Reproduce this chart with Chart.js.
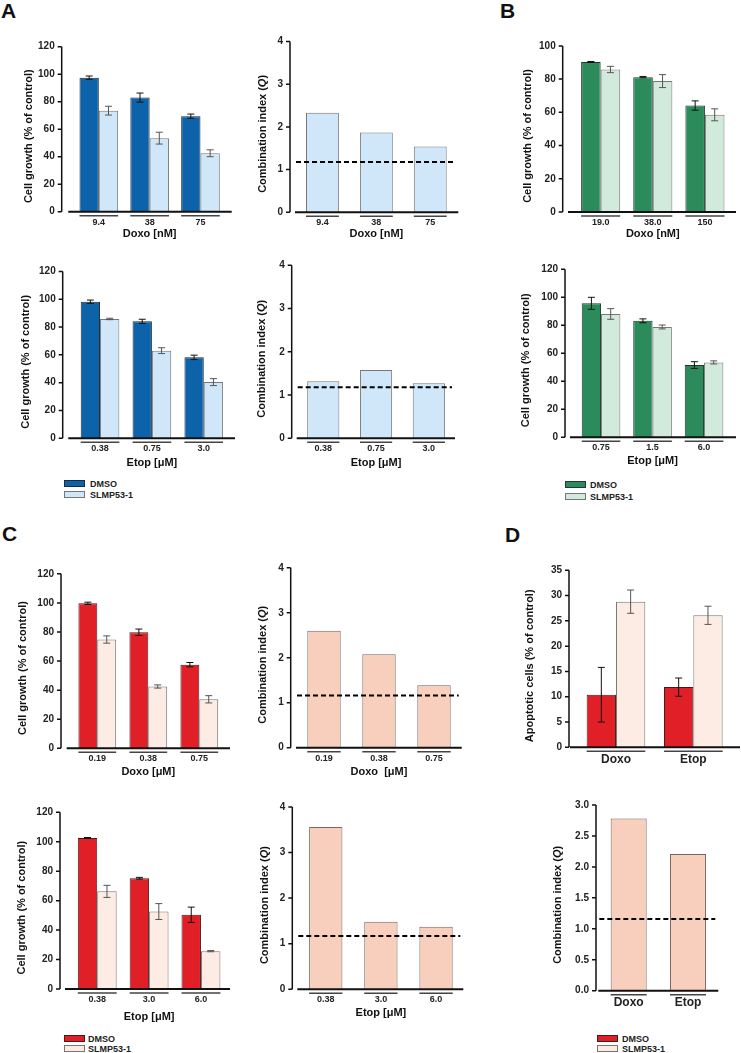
<!DOCTYPE html>
<html>
<head>
<meta charset="utf-8">
<script src="https://cdn.jsdelivr.net/npm/chart.js@4.4.1/dist/chart.umd.min.js"></script>
<style>
body { margin:0; background:#fff; width:741px; height:1053px; position:relative; overflow:hidden; font-family:"Liberation Sans", Arial, sans-serif; }
.box { position:absolute; }
.letter { position:absolute; font-weight:bold; font-size:21px; line-height:21px; color:#111; }
.sw { position:absolute; width:21px; height:7px; box-sizing:border-box; border:1px solid #444; }
.lt { position:absolute; font-weight:bold; font-size:9px; line-height:10px; color:#222; white-space:nowrap; }
</style>
</head>
<body>
<div class="letter" style="left:1px;top:0px">A</div>
<div class="letter" style="left:500px;top:0px">B</div>
<div class="letter" style="left:2px;top:523px">C</div>
<div class="letter" style="left:505px;top:524px">D</div>

<div class="sw" style="left:64px;top:480px;background:#0d63aa;border-color:#1d2a3a"></div><div class="lt" style="left:90px;top:479px">DMSO</div>
<div class="sw" style="left:64px;top:491px;background:#cfe7f8;border-color:#777"></div><div class="lt" style="left:90px;top:490px">SLMP53-1</div>
<div class="sw" style="left:565px;top:481px;background:#2b8b5b;border-color:#1e3a2a"></div><div class="lt" style="left:590px;top:480px">DMSO</div>
<div class="sw" style="left:565px;top:493px;background:#d2eadb;border-color:#777"></div><div class="lt" style="left:590px;top:492px">SLMP53-1</div>
<div class="sw" style="left:64px;top:1035px;background:#e11f27;border-color:#4a1a1a"></div><div class="lt" style="left:88px;top:1034px">DMSO</div>
<div class="sw" style="left:64px;top:1045px;background:#fdece4;border-color:#777"></div><div class="lt" style="left:88px;top:1044px">SLMP53-1</div>
<div class="sw" style="left:597px;top:1035px;background:#e11f27;border-color:#4a1a1a"></div><div class="lt" style="left:622px;top:1034px">DMSO</div>
<div class="sw" style="left:597px;top:1045px;background:#fdece4;border-color:#777"></div><div class="lt" style="left:622px;top:1044px">SLMP53-1</div>

<script>
// ---- A : blue, doxorubicin then etoposide
var aDoxoDoses = ['9.4', '38', '75'];
var aDoxoDmso = [97.5, 83.0, 69.5];
var aDoxoDmsoErr = [1.2, 3.3, 1.5];
var aDoxoSlmp = [73.5, 53.5, 42.5];
var aDoxoSlmpErr = [3.2, 4.3, 2.5];
var aDoxoQ = [2.33, 1.87, 1.54];

var aEtopDoses = ['0.38', '0.75', '3.0'];
var aEtopDmso = [98.2, 84.1, 58.2];
var aEtopDmsoErr = [1.2, 1.5, 1.6];
var aEtopSlmp = [85.8, 63.0, 40.4];
var aEtopSlmpErr = [0.5, 2.1, 2.5];
var aEtopQ = [1.32, 1.58, 1.27];

// ---- B : green
var bDoxoDoses = ['19.0', '38.0', '150'];
var bDoxoDmso = [90.3, 81.2, 64.1];
var bDoxoDmsoErr = [0.3, 0.4, 2.8];
var bDoxoSlmp = [85.8, 78.8, 58.5];
var bDoxoSlmpErr = [1.9, 3.9, 3.6];

var bEtopDoses = ['0.75', '1.5', '6.0'];
var bEtopDmso = [95.7, 83.2, 51.6];
var bEtopDmsoErr = [4.3, 1.4, 2.4];
var bEtopSlmp = [88.1, 78.8, 53.5];
var bEtopSlmpErr = [3.8, 1.4, 1.1];

// ---- C : red
var cDoxoDoses = ['0.19', '0.38', '0.75'];
var cDoxoDmso = [99.7, 79.8, 57.5];
var cDoxoDmsoErr = [0.8, 2.2, 1.5];
var cDoxoSlmp = [74.8, 42.5, 33.7];
var cDoxoSlmpErr = [2.5, 1.1, 2.5];
var cDoxoQ = [2.60, 2.08, 1.39];

var cEtopDoses = ['0.38', '3.0', '6.0'];
var cEtopDmso = [102.6, 75.2, 50.4];
var cEtopDmsoErr = [0.3, 0.6, 5.2];
var cEtopSlmp = [66.3, 52.6, 25.7];
var cEtopSlmpErr = [4.1, 5.4, 0.4];
var cEtopQ = [3.56, 1.48, 1.37];

// ---- D : apoptosis
var dDrugs = ['Doxo', 'Etop'];
var dDmso = [10.4, 11.9];
var dDmsoErr = [5.4, 1.8];
var dSlmp = [28.8, 26.1];
var dSlmpErr = [2.3, 1.8];
var dQ = [2.78, 2.21];

// dashed line (Q threshold) per CI panel: A doxo, A etop, C doxo, C etop, D
var qLine = [1.18, 1.18, 1.16, 1.17, 1.16];

var FONT = '"Liberation Sans", Arial, sans-serif';
var GROWTH = [['Cell growth (% of control)']];
var QTITLE = [['Combination index ('], ['Q', true], [')']];
var APOP = [['Apoptotic cells (% of control)']];

var blue = {dark: '#0d63aa', darkLine: '#1d2a3a', light: '#cfe7f8', lightLine: '#777'};
var green = {dark: '#2b8b5b', darkLine: '#1e3a2a', light: '#d2eadb', lightLine: '#777'};
var red = {dark: '#e11f27', darkLine: '#4a1a1a', light: '#fdece4', lightLine: '#777'};

function pair(c, d, de, s, se) {
    return [
        {data: d, err: de, fill: c.dark, line: c.darkLine, errColor: '#111'},
        {data: s, err: se, fill: c.light, line: c.lightLine, errColor: '#555'}
    ];
}
function single(fill, line, d) {
    return [{data: d, fill: fill, line: line}];
}

function decor(p, left) {
    return {
        id: 'decor',
        afterDraw: function (chart) {
            var ctx = chart.ctx, ca = chart.chartArea, xs = chart.scales.x, ys = chart.scales.y;
            var ax = ca.left - (p.catL - p.axisX);
            var yTopPx = ys.getPixelForValue(p.max);
            ctx.save();
            ctx.strokeStyle = '#111';
            // y axis with little ticks on the left
            ctx.lineWidth = 1.5;
            ctx.beginPath();
            ctx.moveTo(ax, yTopPx);
            ctx.lineTo(ax, ca.bottom);
            ys.ticks.forEach(function (t) {
                var y = ys.getPixelForValue(t.value);
                ctx.moveTo(ax - 4, y);
                ctx.lineTo(ax, y);
            });
            ctx.stroke();
            // x axis
            ctx.lineWidth = 2;
            ctx.beginPath();
            ctx.moveTo(ca.left - (p.catL - p.xL), ca.bottom);
            ctx.lineTo(ca.right + (p.xR - p.catR), ca.bottom);
            ctx.stroke();
            // lines under each group
            ctx.lineWidth = 1.5;
            ctx.strokeStyle = '#444';
            xs.ticks.forEach(function (t, i) {
                var lo = Infinity, hi = -Infinity;
                chart.data.datasets.forEach(function (d, k) {
                    var el = chart.getDatasetMeta(k).data[i];
                    lo = Math.min(lo, el.x - el.width / 2);
                    hi = Math.max(hi, el.x + el.width / 2);
                });
                ctx.beginPath();
                ctx.moveTo(lo, ca.bottom + 4);
                ctx.lineTo(hi, ca.bottom + 4);
                ctx.stroke();
            });
            // error bars
            chart.data.datasets.forEach(function (d, k) {
                if (!d.err) return;
                ctx.strokeStyle = d.errColor;
                ctx.lineWidth = 1;
                chart.getDatasetMeta(k).data.forEach(function (el, i) {
                    var yh = ys.getPixelForValue(d.data[i] + d.err[i]);
                    var yl = ys.getPixelForValue(d.data[i] - d.err[i]);
                    ctx.beginPath();
                    ctx.moveTo(el.x, yh); ctx.lineTo(el.x, yl);
                    ctx.moveTo(el.x - 3.5, yh); ctx.lineTo(el.x + 3.5, yh);
                    ctx.moveTo(el.x - 3.5, yl); ctx.lineTo(el.x + 3.5, yl);
                    ctx.stroke();
                });
            });
            // dashed threshold
            if (p.q != null) {
                var yq = ys.getPixelForValue(p.q);
                ctx.strokeStyle = '#000';
                ctx.lineWidth = 2;
                ctx.setLineDash([5, 3]);
                ctx.beginPath();
                ctx.moveTo(ca.left - (p.catL - p.xL) + 1, yq);
                ctx.lineTo(ca.right + (p.xR - p.catR) - 3, yq);
                ctx.stroke();
                ctx.setLineDash([]);
            }
            // y title (with italic Q where needed)
            ctx.translate(p.titleX - left, (yTopPx + ca.bottom) / 2 + 7);
            ctx.rotate(-Math.PI / 2);
            ctx.fillStyle = '#111';
            ctx.textBaseline = 'middle';
            ctx.textAlign = 'left';
            var total = 0;
            var fonts = p.yTitle.map(function (s) {
                var f = (s[1] ? 'italic ' : '') + 'bold 11px ' + FONT;
                ctx.font = f;
                total += ctx.measureText(s[0]).width;
                return f;
            });
            var x = -total / 2;
            p.yTitle.forEach(function (s, i) {
                ctx.font = fonts[i];
                ctx.fillText(s[0], x, 0);
                x += ctx.measureText(s[0]).width;
            });
            ctx.restore();
        }
    };
}

function addPanel(p) {
    var left = Math.round(p.axisX - 56), top = Math.round(p.yTop - 12);
    var w = Math.round(p.xR + 6 - left), h = Math.round(p.yBot - top + 38);
    var div = document.createElement('div');
    div.className = 'box';
    div.style.left = left + 'px';
    div.style.top = top + 'px';
    var cv = document.createElement('canvas');
    cv.width = w; cv.height = h;
    cv.style.width = w + 'px'; cv.style.height = h + 'px';
    div.appendChild(cv);
    document.body.appendChild(div);

    var plotTop = p.yTop - top, plotBot = p.yBot - top;
    var tickPx = p.tickFont || 9;
    var lblPad = p.lblPad != null ? p.lblPad : 5.1;
    var tOff = p.tOff || 23;

    new Chart(cv, {
        type: 'bar',
        data: {
            labels: p.labels,
            datasets: p.sets.map(function (s) {
                return {
                    data: s.data, err: s.err, errColor: s.errColor,
                    backgroundColor: s.fill, borderColor: s.line, borderWidth: 1,
                    categoryPercentage: p.cp, barPercentage: 1
                };
            })
        },
        options: {
            responsive: false,
            animation: false,
            layout: {padding: {top: plotTop, right: w - (p.catR - left), left: 0, bottom: 0}},
            plugins: {legend: {display: false}, tooltip: {enabled: false}},
            scales: {
                x: {
                    grid: {display: false, drawTicks: false},
                    border: {display: false},
                    ticks: {padding: lblPad, color: '#222', maxRotation: 0, autoSkip: false,
                        font: {family: FONT, size: tickPx, weight: 'bold'}},
                    title: {display: !!p.xTitle, text: p.xTitle || '', color: '#111',
                        font: {family: FONT, size: 11, weight: 'bold'},
                        padding: {top: 0, bottom: h - plotBot - tOff - 6.6}},
                    afterFit: function (s) { s.height = h - plotBot; }
                },
                y: {
                    min: 0, max: p.max,
                    grid: {display: false, drawTicks: false},
                    border: {display: false},
                    ticks: {stepSize: p.step, padding: (p.catL - p.axisX) + 7, color: '#222',
                        font: {family: FONT, size: 10, weight: 'bold'},
                        callback: p.fmt || function (v) { return v; }},
                    afterFit: function (s) { s.width = p.catL - left; }
                }
            }
        },
        plugins: [decor(p, left)]
    });
}

var panels = [
    {labels: aDoxoDoses, axisX: 61.7, yTop: 34.3, yBot: 211.7, catL: 73.4, catR: 225.9, xL: 68.3, xR: 231.7,
        max: 120, step: 20, cp: 0.76, titleX: 29, yTitle: GROWTH, xTitle: 'Doxo [nM]', tOff: 22,
        sets: pair(blue, aDoxoDmso, aDoxoDmsoErr, aDoxoSlmp, aDoxoSlmpErr)},
    {labels: aDoxoDoses, axisX: 290, yTop: 35, yBot: 212.3, catL: 295.5, catR: 457.2, xL: 295, xR: 458.3,
        max: 4, step: 1, cp: 0.61, titleX: 263, yTitle: QTITLE, xTitle: 'Doxo [nM]', tOff: 22, q: qLine[0],
        sets: single('#cfe7f8', '#777', aDoxoQ)},
    {labels: bDoxoDoses, axisX: 562.7, yTop: 32.7, yBot: 212, catL: 574.6, catR: 731, xL: 568, xR: 736,
        max: 100, step: 20, cp: 0.75, titleX: 528.3, yTitle: GROWTH, xTitle: 'Doxo [nM]', tOff: 22,
        sets: pair(green, bDoxoDmso, bDoxoDmsoErr, bDoxoSlmp, bDoxoSlmpErr)},
    {labels: aEtopDoses, axisX: 62.7, yTop: 259.3, yBot: 438.3, catL: 74.1, catR: 229.7, xL: 68.3, xR: 235,
        max: 120, step: 20, cp: 0.745, titleX: 26, yTitle: GROWTH, xTitle: 'Etop [\u03bcM]', tOff: 25,
        sets: pair(blue, aEtopDmso, aEtopDmsoErr, aEtopSlmp, aEtopSlmpErr)},
    {labels: aEtopDoses, axisX: 291.7, yTop: 259.3, yBot: 438.3, catL: 296.9, catR: 455.2, xL: 296.7, xR: 455,
        max: 4, step: 1, cp: 0.61, titleX: 261.7, yTitle: QTITLE, xTitle: 'Etop [\u03bcM]', tOff: 25, q: qLine[1],
        sets: single('#cfe7f8', '#777', aEtopQ)},
    {labels: bEtopDoses, axisX: 565, yTop: 258.3, yBot: 437.3, catL: 575.3, catR: 729.8, xL: 570, xR: 736,
        max: 120, step: 20, cp: 0.75, titleX: 525.8, yTitle: GROWTH, xTitle: 'Etop [\u03bcM]', tOff: 24,
        sets: pair(green, bEtopDmso, bEtopDmsoErr, bEtopSlmp, bEtopSlmpErr)},
    {labels: cDoxoDoses, axisX: 61, yTop: 562.3, yBot: 748.3, catL: 71.8, catR: 224.8, xL: 66.7, xR: 230,
        max: 120, step: 20, cp: 0.74, titleX: 23.3, yTitle: GROWTH, xTitle: 'Doxo [\u03bcM]', tOff: 23.5,
        sets: pair(red, cDoxoDmso, cDoxoDmsoErr, cDoxoSlmp, cDoxoSlmpErr)},
    {labels: cDoxoDoses, axisX: 290.7, yTop: 560.7, yBot: 747.7, catL: 296.5, catR: 461.5, xL: 296, xR: 461.7,
        max: 4, step: 1, cp: 0.607, titleX: 263.3, yTitle: QTITLE, xTitle: 'Doxo  [\u03bcM]', tOff: 24, q: qLine[2],
        sets: single('#f7cfbc', '#7a665e', cDoxoQ)},
    {labels: dDrugs, axisX: 569, yTop: 560.7, yBot: 747.3, catL: 577.3, catR: 732, xL: 570, xR: 740,
        max: 35, step: 5, cp: 0.758, titleX: 530, yTitle: APOP, tickFont: 12, lblPad: 5.5,
        sets: pair(red, dDmso, dDmsoErr, dSlmp, dSlmpErr)},
    {labels: cEtopDoses, axisX: 60, yTop: 800, yBot: 989, catL: 71.3, catR: 226.9, xL: 65, xR: 230,
        max: 120, step: 20, cp: 0.75, titleX: 21.7, yTitle: GROWTH, xTitle: 'Etop [\u03bcM]', tOff: 27.5,
        sets: pair(red, cEtopDmso, cEtopDmsoErr, cEtopSlmp, cEtopSlmpErr)},
    {labels: cEtopDoses, axisX: 292.3, yTop: 800, yBot: 989.3, catL: 298.2, catR: 463.6, xL: 297.3, xR: 463.3,
        max: 4, step: 1, cp: 0.604, titleX: 265, yTitle: QTITLE, xTitle: 'Etop [\u03bcM]', tOff: 24, q: qLine[3],
        sets: single('#f7cfbc', '#7a665e', cEtopQ)},
    {labels: dDrugs, axisX: 596, yTop: 801, yBot: 990.7, catL: 599, catR: 717.7, xL: 598.3, xR: 718.3,
        max: 3, step: 0.5, cp: 0.607, titleX: 558.3, yTitle: QTITLE, tickFont: 12, lblPad: 4.4, q: qLine[4],
        fmt: function (v) { return v.toFixed(1); },
        sets: single('#f7cfbc', '#7a665e', dQ)}
];

panels.forEach(addPanel);
</script>
</body>
</html>
